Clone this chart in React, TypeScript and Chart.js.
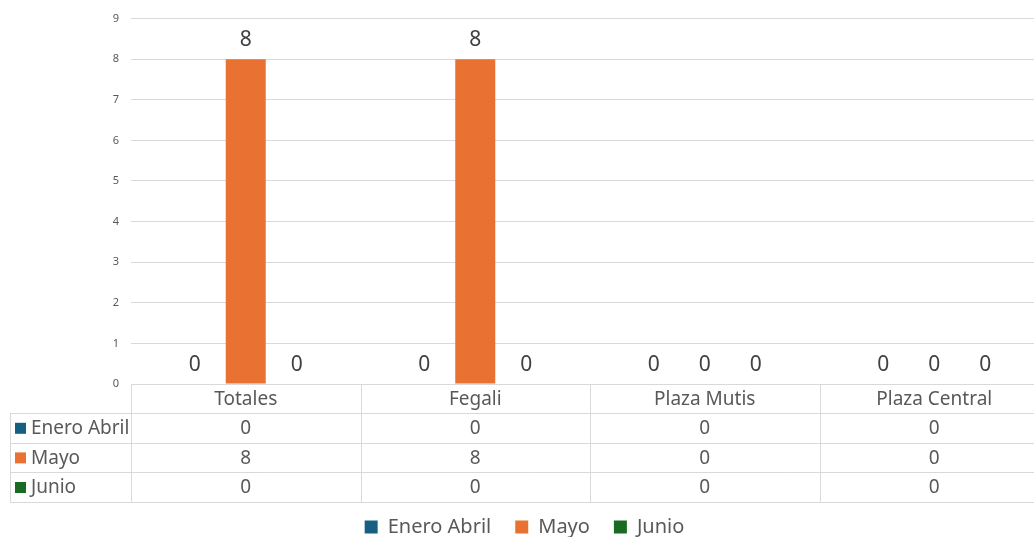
import React, { useEffect, useRef } from "react";
import { Chart, registerables } from "chart.js";

Chart.register(...registerables);

const categories = ["Totales", "Fegali", "Plaza Mutis", "Plaza Central"];
const seriesNames = ["Enero Abril", "Mayo", "Junio"];
const eneroAbril = [0, 0, 0, 0];
const mayo = [8, 8, 0, 0];
const junio = [0, 0, 0, 0];
const seriesColors = ["#156082", "#E97132", "#196B24"];
const yMin = 0;
const yMax = 9;
const yStep = 1;

const FONT = "'Noto Sans', sans-serif";
const TEXT = "#595959";
const GRID = "#d9d9d9";

const dataLabelPlugin = {
  id: "dataLabels",
  afterDatasetsDraw(chart: any) {
    const ctx = chart.ctx;
    ctx.save();
    ctx.font = `21px ${FONT}`;
    ctx.fillStyle = "#404040";
    ctx.textAlign = "center";
    ctx.textBaseline = "middle";
    chart.data.datasets.forEach((ds: any, di: number) => {
      const meta = chart.getDatasetMeta(di);
      meta.data.forEach((bar: any, i: number) => {
        ctx.fillText(String(ds.data[i]), bar.x, bar.y - 19);
      });
    });
    ctx.restore();
  },
};

const tablePlugin = {
  id: "dataTable",
  afterDraw(chart: any) {
    const ctx = chart.ctx;
    const x = chart.scales.x;
    const area = chart.chartArea;
    const n = categories.length;
    const catW = (area.right - area.left) / n;
    const top = area.bottom;
    const headerH = 29;
    const rowH = 29.6;
    const rowsTop = top + headerH;
    const tableLeft = area.left - 121;
    const right = area.right;
    const bottom = rowsTop + rowH * seriesNames.length;
    ctx.save();
    ctx.strokeStyle = GRID;
    ctx.lineWidth = 1;
    const hline = (y: number, x0: number) => {
      ctx.beginPath();
      ctx.moveTo(x0, Math.round(y) + 0.5);
      ctx.lineTo(right, Math.round(y) + 0.5);
      ctx.stroke();
    };
    const vline = (xx: number, y0: number) => {
      ctx.beginPath();
      ctx.moveTo(Math.round(xx) + 0.5, y0);
      ctx.lineTo(Math.round(xx) + 0.5, bottom);
      ctx.stroke();
    };
    hline(top, area.left);
    for (let r = 0; r <= seriesNames.length; r++) hline(rowsTop + r * rowH, tableLeft);
    vline(tableLeft, rowsTop);
    for (let i = 0; i <= n; i++) vline(area.left + i * catW, top);

    ctx.fillStyle = TEXT;
    ctx.textAlign = "center";
    ctx.textBaseline = "middle";
    ctx.font = `19px ${FONT}`;
    categories.forEach((c, i) => {
      ctx.fillText(c, x.getPixelForValue(i), top + headerH / 2 + 1);
    });
    const all = [eneroAbril, mayo, junio];
    all.forEach((vals, r) => {
      const cy = rowsTop + r * rowH + rowH / 2 + 1;
      vals.forEach((v, i) => {
        ctx.fillStyle = TEXT;
        ctx.textAlign = "center";
        ctx.fillText(String(v), x.getPixelForValue(i), cy);
      });
      ctx.fillStyle = seriesColors[r];
      ctx.fillRect(tableLeft + 5, cy - 6, 11, 11);
      ctx.fillStyle = TEXT;
      ctx.textAlign = "left";
      ctx.fillText(seriesNames[r], tableLeft + 21, cy);
    });
    ctx.restore();
  },
};

export default function App() {
  const ref = useRef<HTMLCanvasElement | null>(null);
  useEffect(() => {
    if (!ref.current) return;
    const chart = new Chart(ref.current, {
      type: "bar",
      data: {
        labels: categories,
        datasets: [
          { label: seriesNames[0], data: eneroAbril, backgroundColor: seriesColors[0] },
          { label: seriesNames[1], data: mayo, backgroundColor: seriesColors[1] },
          { label: seriesNames[2], data: junio, backgroundColor: seriesColors[2] },
        ],
      },
      options: {
        animation: false,
        responsive: true,
        maintainAspectRatio: false,
        devicePixelRatio: 1,
        layout: { padding: { top: 17, right: 1, left: 0, bottom: 0 } },
        datasets: {
          bar: { categoryPercentage: 0.667, barPercentage: 0.784 },
        },
        plugins: {
          legend: {
            position: "bottom",
            labels: {
              boxWidth: 13,
              boxHeight: 13,
              padding: 24,
              color: TEXT,
              font: { family: FONT, size: 20 },
            },
          },
          tooltip: { enabled: false },
          title: { display: false },
        },
        scales: {
          x: {
            ticks: { display: false },
            grid: { display: false },
            border: { display: false },
            afterFit: (s: any) => {
              s.height = 109;
            },
          },
          y: {
            min: yMin,
            max: yMax,
            ticks: {
              stepSize: yStep,
              padding: 12,
              color: TEXT,
              font: { family: FONT, size: 11 },
            },
            grid: { color: GRID, drawTicks: false },
            border: { display: false },
            afterFit: (s: any) => {
              s.width = 131;
            },
          },
        },
      },
      plugins: [dataLabelPlugin, tablePlugin],
    });
    return () => chart.destroy();
  }, []);
  return (
    <div
      style={{
        position: "fixed",
        left: 0,
        top: 0,
        width: 1034,
        height: 537,
        overflow: "hidden",
        background: "#ffffff",
      }}
    >
      <div style={{ position: "absolute", left: 0, top: 0, width: 1050, height: 547 }}>
        <canvas ref={ref} />
      </div>
    </div>
  );
}
